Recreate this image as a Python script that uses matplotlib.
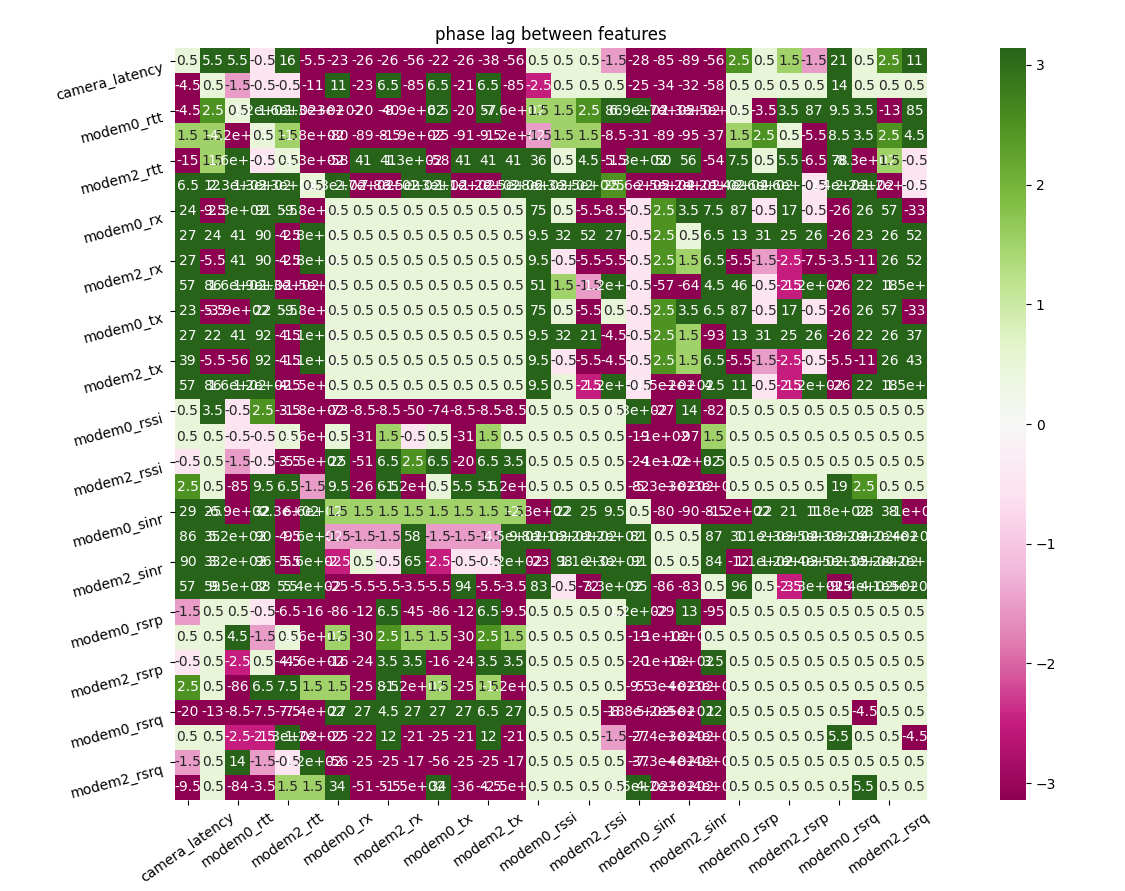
import numpy as np
import matplotlib
matplotlib.use("Agg")
import matplotlib.pyplot as plt
import seaborn as sns

features = ["camera_latency", "modem0_rtt", "modem2_rtt", "modem0_rx", "modem2_rx",
            "modem0_tx", "modem2_tx", "modem0_rssi", "modem2_rssi", "modem0_sinr",
            "modem2_sinr", "modem0_rsrp", "modem2_rsrp", "modem0_rsrq", "modem2_rsrq"]

r00 = [0.5,5.5,5.5,-0.5,16,-5.5,-23,-26,-26,-56,-22,-26,-38,-56,0.5,0.5,0.5,-1.5,-28,-85,-89,-56,2.5,0.5,1.5,-1.5,21,0.5,2.5,11]
r01 = [-4.5,0.5,-1.5,-0.5,-0.5,-11,11,-23,6.5,-85,6.5,-21,6.5,-85,-2.5,0.5,0.5,0.5,-25,-34,-32,-58,0.5,0.5,0.5,0.5,14,0.5,0.5,0.5]
r02 = [-4.5,2.5,0.5,120,160,-130,-300,-20,-40,-890,6.5,-20,57,-760,1.5,1.5,2.5,86,690,-270,-130,-550,0.5,-3.5,3.5,87,9.5,3.5,-13,85]
r03 = [1.5,1.5,-420,0.5,1.5,-180,-80,-89,-8.5,-190,-25,-91,-9.5,-120,-1.5,1.5,1.5,-8.5,-31,-89,-95,-37,1.5,2.5,0.5,-5.5,8.5,3.5,2.5,4.5]
r04 = [-15,1.5,160,-0.5,0.5,-130,-58,41,41,130,-58,41,41,41,36,0.5,4.5,-5.5,130,50,56,-54,7.5,0.5,5.5,-6.5,78,-830,1.5,-0.5]
r05 = [6.5,12,230,130,330,0.5,330,-270,-780,350,130,-110,-120,250,380,630,350,2.5,-560,-250,-520,-420,140,260,460,-0.5,140,220,-120,-0.5]
r06 = [24,-9.5,230,91,5.5,-980,0.5,0.5,0.5,0.5,0.5,0.5,0.5,0.5,75,0.5,-5.5,-8.5,-0.5,2.5,3.5,7.5,87,-0.5,17,-0.5,-26,26,57,-33]
r07 = [27,24,41,90,-4.5,280,0.5,0.5,0.5,0.5,0.5,0.5,0.5,0.5,9.5,32,52,27,-0.5,2.5,0.5,6.5,13,31,25,26,-26,23,26,52]
r08 = [27,-5.5,41,90,-4.5,280,0.5,0.5,0.5,0.5,0.5,0.5,0.5,0.5,9.5,-0.5,-5.5,-5.5,-0.5,2.5,1.5,6.5,-5.5,-1.5,-2.5,-7.5,-3.5,-11,26,52]
r09 = [57,86,160,190,-130,-150,0.5,0.5,0.5,0.5,0.5,0.5,0.5,0.5,51,1.5,-1.5,120,-0.5,-57,-64,4.5,46,-0.5,-2.5,120,-26,22,18,150]
r10 = [23,-5.5,-390,22,5.5,-980,0.5,0.5,0.5,0.5,0.5,0.5,0.5,0.5,75,0.5,-5.5,0.5,-0.5,2.5,3.5,6.5,87,-0.5,17,-0.5,-26,26,57,-33]
r11 = [27,22,41,92,-4.5,110,0.5,0.5,0.5,0.5,0.5,0.5,0.5,0.5,9.5,32,21,-4.5,-0.5,2.5,1.5,-93,13,31,25,26,-26,22,26,37]
r12 = [39,-5.5,-56,92,-4.5,110,0.5,0.5,0.5,0.5,0.5,0.5,0.5,0.5,9.5,-0.5,-5.5,-4.5,-0.5,2.5,1.5,6.5,-5.5,-1.5,-2.5,-0.5,-5.5,-11,26,43]
r13 = [57,86,160,120,-4.5,-150,0.5,0.5,0.5,0.5,0.5,0.5,0.5,0.5,9.5,0.5,-2.5,120,-0.5,-150,-200,4.5,11,-0.5,-2.5,120,-26,22,18,150]
r14 = [0.5,3.5,-0.5,2.5,-3.5,-180,-73,-8.5,-8.5,-50,-74,-8.5,-8.5,-8.5,0.5,0.5,0.5,0.5,130,-27,14,-82,0.5,0.5,0.5,0.5,0.5,0.5,0.5,0.5]
r15 = [0.5,0.5,-0.5,-0.5,0.5,-160,0.5,-31,1.5,-0.5,0.5,-31,1.5,0.5,0.5,0.5,0.5,0.5,-19,-100,-97,1.5,0.5,0.5,0.5,0.5,0.5,0.5,0.5,0.5]
r16 = [-0.5,0.5,-1.5,-0.5,-3.5,-550,25,-51,6.5,2.5,6.5,-20,6.5,3.5,0.5,0.5,0.5,0.5,-24,-100,-120,8.5,0.5,0.5,0.5,0.5,0.5,0.5,0.5,0.5]
r17 = [2.5,0.5,-85,9.5,6.5,-1.5,9.5,-26,6.5,-120,0.5,5.5,5.5,-120,0.5,0.5,0.5,0.5,-82,-530,-300,-300,0.5,0.5,0.5,0.5,19,2.5,0.5,0.5]
r18 = [29,25,-690,32,-230,660,1.5,1.5,1.5,1.5,1.5,1.5,1.5,1.5,-230,22,25,9.5,0.5,-80,-90,-8.5,-120,22,21,11,180,28,38,-100]
r19 = [86,35,520,90,-4.5,960,-1.5,-1.5,-1.5,58,-1.5,-1.5,-1.5,450,980,110,320,120,81,0.5,0.5,87,30,110,230,350,430,320,420,400]
r20 = [90,33,320,96,-5.5,560,-2.5,0.5,-0.5,65,-2.5,-0.5,-0.5,120,-23,98,110,230,91,0.5,0.5,84,-12,110,120,240,350,230,520,420]
r21 = [57,59,950,38,5.5,540,-25,-5.5,-5.5,-3.5,-5.5,94,-5.5,-3.5,83,-0.5,-72,330,95,-86,-83,0.5,96,0.5,-2.5,330,-9.5,140,410,500]
r22 = [-1.5,0.5,0.5,-0.5,-6.5,-16,-86,-12,6.5,-45,-86,-12,6.5,-9.5,0.5,0.5,0.5,0.5,120,-29,13,-95,0.5,0.5,0.5,0.5,0.5,0.5,0.5,0.5]
r23 = [0.5,0.5,4.5,-1.5,0.5,-160,1.5,-30,2.5,1.5,1.5,-30,2.5,1.5,0.5,0.5,0.5,0.5,-19,-100,-100,0.5,0.5,0.5,0.5,0.5,0.5,0.5,0.5,0.5]
r24 = [-0.5,0.5,-2.5,0.5,-4.5,-460,-16,-24,3.5,3.5,-16,-24,3.5,3.5,0.5,0.5,0.5,0.5,-20,-100,-100,3.5,0.5,0.5,0.5,0.5,0.5,0.5,0.5,0.5]
r25 = [2.5,0.5,-86,6.5,7.5,1.5,1.5,-25,8.5,-120,1.5,-25,1.5,-120,0.5,0.5,0.5,0.5,-9.5,-530,-400,-300,0.5,0.5,0.5,0.5,0.5,0.5,0.5,0.5]
r26 = [-20,-13,-8.5,-7.5,-7.5,-740,27,27,4.5,27,27,27,6.5,27,0.5,0.5,0.5,-18,-880,-520,-500,12,0.5,0.5,0.5,0.5,0.5,-4.5,0.5,0.5]
r27 = [0.5,0.5,-2.5,-2.5,130,-120,-25,-22,12,-21,-25,-21,12,-21,0.5,0.5,0.5,-1.5,-27,-740,-300,-400,0.5,0.5,0.5,0.5,5.5,0.5,0.5,-4.5]
r28 = [-1.5,0.5,14,-1.5,-0.5,120,-56,-25,-25,-17,-56,-25,-25,-17,0.5,0.5,0.5,0.5,-37,-730,-400,-400,0.5,0.5,0.5,0.5,0.5,0.5,0.5,0.5]
r29 = [-9.5,0.5,-84,-3.5,1.5,1.5,34,-51,-5.5,-150,34,-36,-4.5,-250,0.5,0.5,0.5,0.5,250,-420,-300,-400,0.5,0.5,0.5,0.5,0.5,5.5,0.5,0.5]

phase = np.array([r00,r01,r02,r03,r04,r05,r06,r07,r08,r09,r10,r11,r12,r13,r14,
                  r15,r16,r17,r18,r19,r20,r21,r22,r23,r24,r25,r26,r27,r28,r29], dtype=float)

W, H = 1125, 891
fig = plt.figure(figsize=(W/100, H/100), dpi=100)
ax = fig.add_axes([175/W, 1-800/H, 752/W, 752/H])
cax = fig.add_axes([1000/W, 1-800/H, 26/W, 752/H])

labels_full = [f for f in features for _ in (0, 1)]
sns.heatmap(phase, annot=True, cmap="PiYG", vmin=-np.pi, vmax=np.pi, ax=ax, cbar_ax=cax,
            xticklabels=labels_full, yticklabels=labels_full, annot_kws={"fontsize": 10})
ax.set_xticks(ax.get_xticks()[::2])
ax.set_xticklabels(features, rotation=35)
ax.set_yticks(ax.get_yticks()[::2])
ax.set_yticklabels(features, rotation=15, va="top")
ax.set_title("phase lag between features")
fig.savefig("out.png", dpi=100)
